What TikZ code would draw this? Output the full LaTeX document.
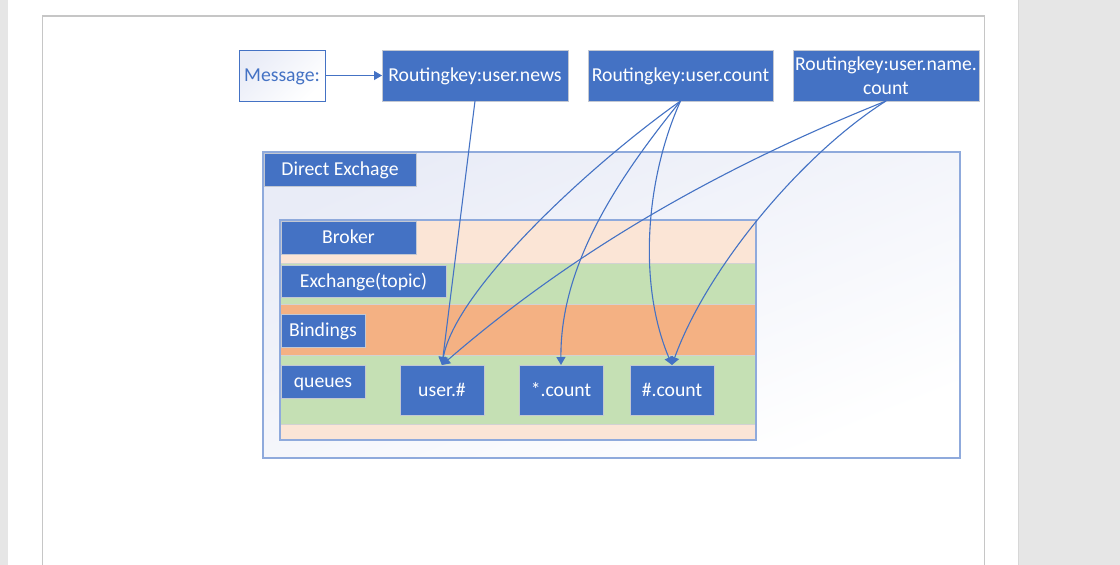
\documentclass[tikz,border=0pt]{standalone}
\usepackage{fontspec}
\setmainfont{Carlito}
\usetikzlibrary{arrows.meta}
\definecolor{accent}{HTML}{4472C4}
\definecolor{boxline}{HTML}{C3C8D2}
\definecolor{frameblue}{HTML}{8FAADC}
\definecolor{lavender}{HTML}{E9ECF7}
\definecolor{peach}{HTML}{FBE5D6}
\definecolor{leaf}{HTML}{C5E0B4}
\definecolor{apricot}{HTML}{F4B183}
\definecolor{desk}{HTML}{E6E6E6}
\definecolor{pageedge}{HTML}{C6C6C6}
\definecolor{bandedge}{HTML}{D2D2D2}
\tikzset{
  txt/.style={font=\fontsize{19.7}{24}\selectfont, text height=16.6pt, text depth=4.1pt},
  bluebox/.style={txt, fill=accent, draw=boxline, line width=1, text=white,
    inner sep=0, outer sep=0, align=center},
  softbox/.style={top color=lavender, bottom color=white, shading angle=45},
  widesoft/.style={top color=lavender, bottom color=white, shading angle=22},
  band/.style={draw=bandedge, line width=0.8},
  link/.style={draw=accent, line width=1.1, -{Triangle[length=8,width=9]}}
}
\begin{document}
\begin{tikzpicture}[x=1pt,y=-1pt]
\useasboundingbox (0,0) rectangle (1120,565);
% desk and page
\fill[desk] (0,0) rectangle (1120,565);
\fill[white] (8,0) rectangle (1018,565);
\draw[pageedge!70, line width=0.8] (1018,0) -- (1018,565);
\draw[pageedge, line width=1.2] (42.5,565) -- (42.5,16) -- (984.5,16) -- (984.5,565);

% exchange container
\draw[widesoft, draw=frameblue, line width=1.5] (263,152) rectangle (960,458);
% broker container and its bands
\draw[fill=peach, draw=frameblue, line width=1.5] (280,220) rectangle (756,440);
\filldraw[band, fill=leaf] (280.7,263.5) rectangle (755.3,304.5);
\filldraw[band, fill=apricot] (280.7,304.5) rectangle (755.3,355.5);
\filldraw[band, fill=leaf] (280.7,355.5) rectangle (755.3,424);
\draw[frameblue, line width=1.5] (280,220) rectangle (756,440);

% labels
\node[bluebox, minimum width=152, minimum height=33] (de) at (340,169.5) {Direct Exchage};
\node[bluebox, minimum width=135, minimum height=33] (broker) at (348.5,237.5) {Broker};
\node[bluebox, minimum width=165, minimum height=32] (exch) at (363.5,281) {Exchange(topic)};
\node[bluebox, minimum width=84, minimum height=33] (bind) at (323,330.5) {Bindings};
\node[bluebox, minimum width=84, minimum height=33] (queues) at (323,381.5) {queues};

% queues
\node[bluebox, minimum width=84, minimum height=50] (userq) at (442,390) {user.\#};
\node[bluebox, minimum width=84, minimum height=50] (starq) at (561,390) {*.count};
\node[bluebox, minimum width=84, minimum height=50] (hashq) at (672,390) {\#.count};

% message and routing keys
\node[txt, softbox, draw=accent, line width=1, text=accent, inner sep=0, outer sep=0,
  minimum width=86, minimum height=51] (msg) at (282,75.5) {Message:};
\node[bluebox, minimum width=186, minimum height=51] (news) at (475,75.5) {Routingkey:user.news};
\node[bluebox, minimum width=185, minimum height=51] (ucount) at (680.5,75.5) {Routingkey:user.count};
\node[bluebox, minimum width=186, minimum height=51, text height=, text depth=] (uname) at (886,75.5) {Routingkey:user.name.\\count};

% connectors
\draw[link] (msg.east) -- (news.west);
\draw[link] (news.south) -- (userq.north);
\draw[link] (ucount.south) .. controls (590,165) and (455,290) .. (userq.north);
\draw[link] (ucount.south) .. controls (625,170) and (560,260) .. (starq.north);
\draw[link] (ucount.south) .. controls (645,180) and (638,285) .. (hashq.north);
\draw[link] (uname.south) .. controls (701,175) and (561,262) .. (userq.north);
\draw[link] (uname.south) .. controls (802,154) and (707,268) .. (hashq.north);
\end{tikzpicture}
\end{document}
